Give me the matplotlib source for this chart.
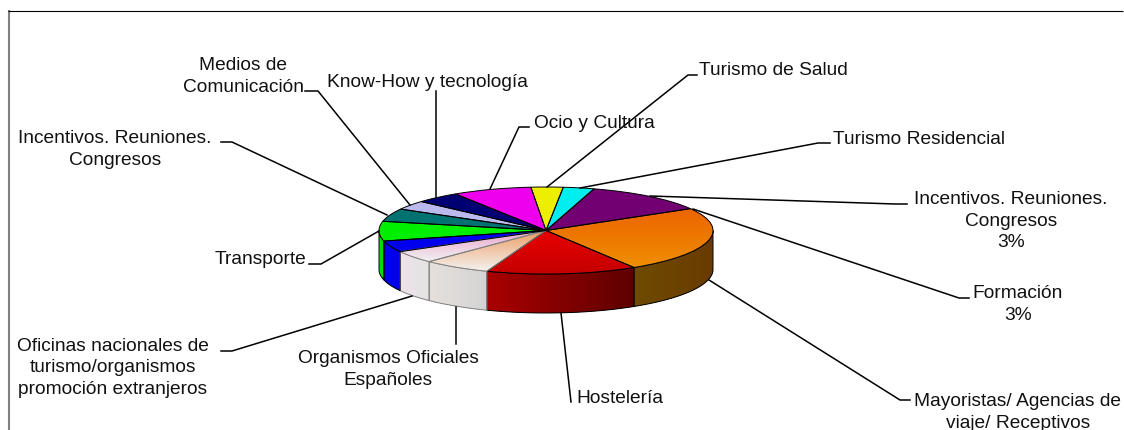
#!/usr/bin/env python3
# -*- coding: utf-8 -*-
import numpy as np
import matplotlib
matplotlib.use("Agg")
import matplotlib.pyplot as plt
from matplotlib.colors import LinearSegmentedColormap
from matplotlib.patches import Polygon

plt.rcParams['font.family'] = ['Liberation Sans', 'DejaVu Sans']

# slices clockwise, starting from the yellow one (share of the pie)
slices = ["Turismo de Salud", "Turismo Residencial", "Incentivos. Reuniones. Congresos",
          "Mayoristas/ Agencias de viaje/ Receptivos", "Hostelería",
          "Organismos Oficiales Españoles", "Oficinas nacionales", "Formación",
          "Transporte", "Incentivos. Reuniones. Congresos (2)",
          "Medios de Comunicación", "Know-How y tecnología", "Ocio y Cultura"]
shares = [3.1, 3.0, 12.0, 24.6, 14.6, 6.6, 4.6, 4.2, 7.3, 4.8, 3.4, 4.3, 7.7]
top_cols = ["#eeee00", "#00eeee", "#720072", "#ee7a00", "#e60000", "#f2e6e0", "#f0e4ea",
            "#0000ee", "#00ee00", "#007272", "#babaee", "#000072", "#ee00ee"]
top_grad = [None, None, None, ("#ec6400", "#ee8e00"), ("#e80000", "#c40000"),
            ("#ec9c64", "#f4f2f0"), ("#e8a4cc", "#f2f2f2"),
            None, None, None, None, None, None]
edge_cols = ["black", "black", "black", "black", "black", "#808080", "#808080",
             "black", "black", "black", "black", "black", "black"]
wall_grad = [None, None, None, ("#6e4c00", "#6a3a00"), ("#aa0000", "#5e0000"),
             ("#e6e0dc", "#d4d4d4"), ("#eee2e8", "#e4e4e4"),
             ("#0000ee", "#0000ee"), ("#00e000", "#00e000"), None, None, None, None]

# labels and their leader lines, in pixels of the picture
labels = [("Medios de\nComunicación", 243, 76.5, "center"),
          ("Know-How y tecnología", 427, 82.5, "center"),
          ("Ocio y Cultura", 534, 123.5, "left"),
          ("Turismo de Salud", 699, 70.5, "left"),
          ("Turismo Residencial", 833, 139.5, "left"),
          ("Incentivos. Reuniones.\nCongresos\n3%", 1011, 221, "center"),
          ("Formación\n3%", 1018, 304.5, "center"),
          ("Mayoristas/ Agencias de\nviaje/ Receptivos", 1018, 412.5, "center"),
          ("Hostelería", 576, 398.5, "left"),
          ("Organismos Oficiales\nEspañoles", 388, 369.5, "center"),
          ("Oficinas nacionales de\nturismo/organismos\npromoción extranjeros", 113, 368, "center"),
          ("Transporte", 306, 259.5, "right"),
          ("Incentivos. Reuniones.\nCongresos", 115, 149.5, "center")]
leaders = [[(305, 91), (318, 91), (410, 205)],
           [(436, 91), (436, 197)],
           [(529, 127), (519, 127), (490, 189)],
           [(697, 75), (688, 75), (547, 187)],
           [(830, 143), (818, 143), (580, 188)],
           [(907, 204), (895, 204), (650, 196)],
           [(969, 298), (959, 298), (693, 209)],
           [(910, 400), (900, 400), (709, 280)],
           [(571, 402), (561, 313)],
           [(456, 344), (456, 307)],
           [(221, 351), (232, 351), (412, 296)],
           [(309, 264), (321, 264), (379, 231)],
           [(221, 142), (232, 142), (387, 215)]]

W, H = 1124, 430
cx, cy, rx, ry = 546, 230.5, 167, 43.5
depth = 39 / ry


def gradient(ax, c1, c2, extent, clip, horizontal, z):
    cmap = LinearSegmentedColormap.from_list("g", [c1, c2])
    g = np.linspace(0, 1, 256)
    g = g.reshape(1, -1) if horizontal else g.reshape(-1, 1)
    im = ax.imshow(g, cmap=cmap, extent=extent, origin="upper", aspect="auto",
                   interpolation="bilinear", zorder=z)
    im.set_clip_path(clip)


fig = plt.figure(figsize=(W / 100, H / 100), dpi=100, facecolor="white")
ax = fig.add_axes([0, 0, 1, 1])

wedges, _ = ax.pie(shares, colors=top_cols, startangle=95.2, counterclock=False,
                   wedgeprops=dict(linewidth=0, zorder=3))

for w, tg, wg, ec in zip(wedges, top_grad, wall_grad, edge_cols):
    # side wall, only the front half can be seen
    t1, t2 = max(w.theta1, -180), min(w.theta2, 0)
    if wg is not None and t1 < t2:
        th = np.radians(np.linspace(t1, t2, 60))
        x, y = np.cos(th), np.sin(th)
        pts = np.r_[np.c_[x, y], np.c_[x[::-1], y[::-1] - depth]]
        wall = Polygon(pts, closed=True, facecolor=wg[0], edgecolor="none", zorder=1)
        ax.add_patch(wall)
        gradient(ax, wg[0], wg[1], (x.min(), x.max(), -2, 1), wall, True, 1.5)
        ax.add_patch(Polygon(pts, closed=True, fill=False, edgecolor=ec, linewidth=0.7, zorder=2))
    if tg is not None:
        th = np.radians(np.linspace(w.theta1, w.theta2, 60))
        ys = np.r_[np.sin(th), 0]
        gradient(ax, tg[0], tg[1], (-1, 1, ys.min(), ys.max()), w, False, 3.5)

outline, _ = ax.pie(shares, startangle=95.2, counterclock=False,
                    wedgeprops=dict(fill=False, linewidth=0.7, zorder=4))
for w, ec in zip(outline, edge_cols):
    w.set_edgecolor(ec)

ax.set_aspect("auto")
ax.set_xlim(-cx / rx, (W - cx) / rx)
ax.set_ylim((cy - H) / ry, cy / ry)
ax.axis("off")

# overlay in pixels for the frame, the labels and the leader lines
top = fig.add_axes([0, 0, 1, 1], zorder=5)
top.set_xlim(0, W)
top.set_ylim(H, 0)
top.axis("off")
top.plot([8.5, 8.5], [10, H], color="#808080", lw=1.5, solid_capstyle="butt")
top.plot([8, 1123], [10.5, 10.5], color="black", lw=0.8, solid_capstyle="butt")

for pts in leaders:
    top.plot([p[0] for p in pts], [p[1] for p in pts], color="black", lw=1.1)
for txt, x, y, ha in labels:
    top.text(x, y, txt, ha=ha, va="center", multialignment="center",
             fontsize=13.8, color="#111111", linespacing=1.33)

fig.savefig("out.png", dpi=100)
